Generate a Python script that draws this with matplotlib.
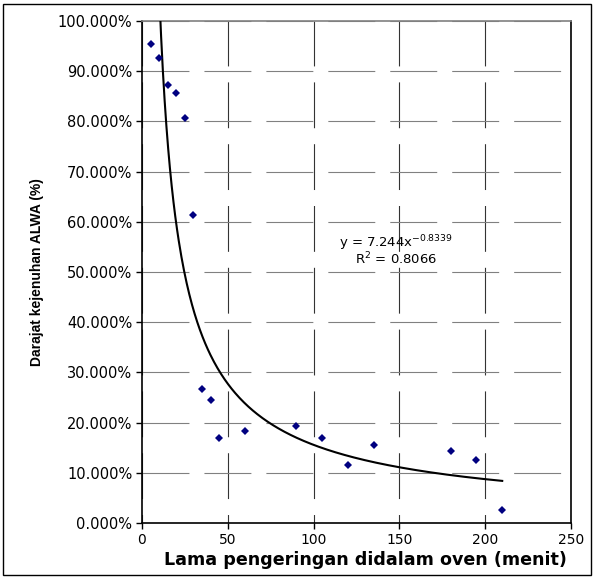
import numpy as np
import matplotlib
matplotlib.use('Agg')
import matplotlib.pyplot as plt
from matplotlib.ticker import PercentFormatter, MultipleLocator
from matplotlib.patches import Rectangle

# measured data: drying time (min) vs ALWA saturation degree (fraction)
waktu = [5, 10, 15, 20, 25, 30, 35, 40, 45, 60, 90, 105, 120, 135, 180, 195, 210]
derajat = [0.954, 0.926, 0.873, 0.857, 0.807, 0.614, 0.267, 0.245, 0.170,
           0.183, 0.193, 0.169, 0.116, 0.155, 0.143, 0.125, 0.026]

# power trendline from the spreadsheet: y = a * x^b
koef_a = 7.244
koef_b = -0.8339
r_kuadrat = 0.8066

plt.rcParams['lines.scale_dashes'] = False
plt.rcParams['mathtext.default'] = 'regular'

fig = plt.figure(figsize=(5.94, 5.78), dpi=100)
ax = fig.add_axes([0.239, 0.0952, 0.722, 0.8685])

# trendline over the data range
x_fit = np.linspace(min(waktu), max(waktu), 400)
y_fit = koef_a * x_fit ** koef_b
ax.plot(x_fit, y_fit, color='black', linewidth=1.5, zorder=3)

ax.plot(waktu, derajat, linestyle='none', marker='D', markersize=4,
        color='#000080', markeredgewidth=0, zorder=4)

ax.set_xlim(0, 250)
ax.set_ylim(0, 1.0)
ax.xaxis.set_major_locator(MultipleLocator(50))
ax.yaxis.set_major_locator(MultipleLocator(0.1))
ax.yaxis.set_major_formatter(PercentFormatter(xmax=1, decimals=3))

ax.grid(axis='x', color='#333333', linewidth=0.8, linestyle=(26.9, (33, 11.5)))
ax.grid(axis='y', color='#808080', linewidth=0.8, linestyle=(0, (33.8, 10.8)))
ax.set_axisbelow(True)

ax.spines['top'].set_color('#808080')
ax.spines['top'].set_linewidth(1.2)
for s in ['left', 'bottom', 'right']:
    ax.spines[s].set_linewidth(1.2)

ax.tick_params(axis='both', direction='out', length=4, width=1,
               labelsize=10.5, pad=3)
ax.tick_params(axis='x', labelsize=10)
for lbl in ax.get_xticklabels() + ax.get_yticklabels():
    lbl.set_family('DejaVu Sans')

ax.set_xlabel('Lama pengeringan didalam oven (menit)', fontsize=12.6,
              fontweight='bold', family='DejaVu Sans')
ax.xaxis.set_label_coords(0.52, -0.056)
ax.set_ylabel('Darajat kejenuhan ALWA (%)', fontsize=10, fontweight='bold',
              family='Liberation Sans', labelpad=10)

ax.text(148, 0.558, 'y = 7.244x$^{-0.8339}$', ha='center', va='center',
        fontsize=9.5, family='DejaVu Sans')
ax.text(148, 0.525, 'R$^{2}$ = 0.8066', ha='center', va='center',
        fontsize=9.5, family='DejaVu Sans')

# outer chart border
fig.patches.append(Rectangle((0.005, 0.005), 0.990, 0.988, transform=fig.transFigure,
                             fill=False, edgecolor='black', linewidth=1))

fig.savefig('out.png', dpi=100)
